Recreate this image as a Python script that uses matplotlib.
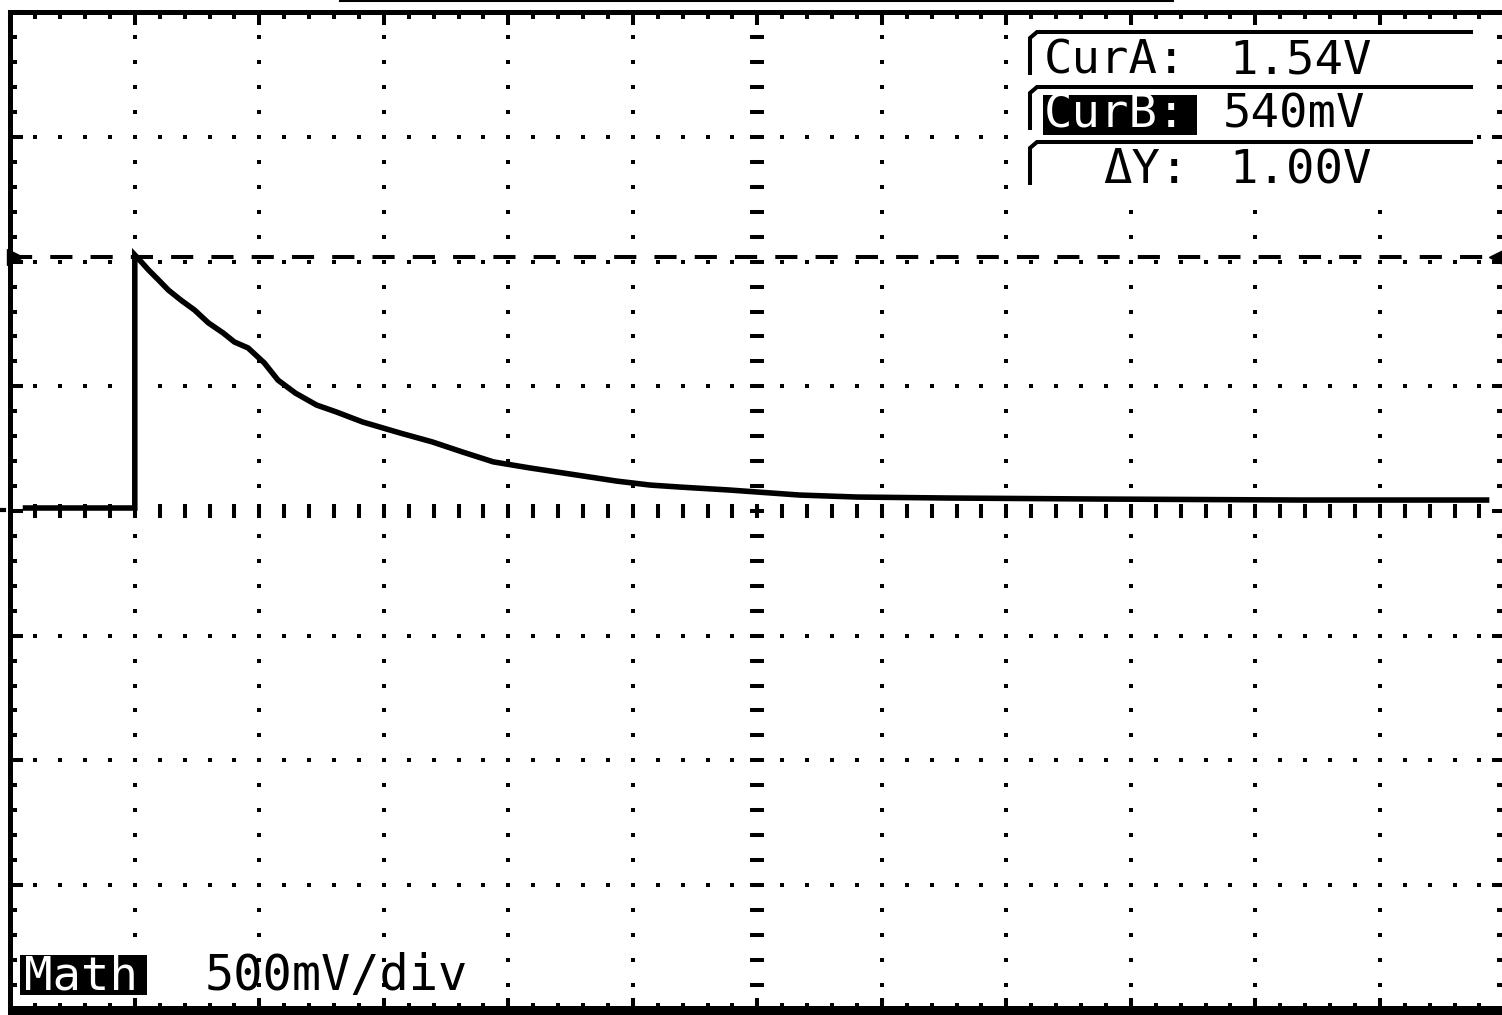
import numpy as np
import matplotlib
matplotlib.use("Agg")
import matplotlib.pyplot as plt
from matplotlib.patches import Rectangle
from matplotlib.lines import Line2D

# ---------------- data ----------------
volts_per_div = 0.5
screen_center_v = 0.52
n_xdiv = 12
n_ydiv = 8

# trace: time in divisions, voltage in volts
trace_t = [0.10, 1.00, 1.00, 1.06, 1.11, 1.19, 1.27, 1.37, 1.48, 1.59, 1.71,
           1.80, 1.91, 2.04, 2.15, 2.29, 2.46, 2.62, 2.83, 3.13, 3.39, 3.63,
           3.88, 4.17, 4.54, 4.87, 5.14, 5.38, 5.78, 6.34, 6.80, 7.55, 8.75,
           10.36, 11.88]
trace_v = [0.532, 0.532, 1.547, 1.515, 1.487, 1.447, 1.406, 1.366, 1.326,
           1.275, 1.234, 1.198, 1.174, 1.114, 1.045, 0.993, 0.945, 0.917,
           0.877, 0.833, 0.797, 0.757, 0.717, 0.693, 0.665, 0.640, 0.624,
           0.616, 0.604, 0.584, 0.576, 0.572, 0.568, 0.564, 0.564]

cursor_a_v = 1.54
cursor_b_v = 0.54
readout_labels = ["CurA:", "CurB:", "ΔY:"]
readout_values = ["1.54V", "540mV", "1.00V"]
channel_label = "Math"
scale_label = "500mV/div"

# ---------------- figure ----------------
W, H = 1502, 1015
fig = plt.figure(figsize=(W / 100, H / 100), dpi=100)
fig.patch.set_facecolor("white")


def fx(x):
    return x / W


def fy(y):
    return 1 - y / H


left_px, right_px, top_px, bot_px = 10.3, 1504.3, 12.4, 1009.6
ax = fig.add_axes([fx(left_px), fy(bot_px), (right_px - left_px) / W,
                   (bot_px - top_px) / H])
ax.set_facecolor("white")
v_lo = screen_center_v - n_ydiv / 2 * volts_per_div
v_hi = screen_center_v + n_ydiv / 2 * volts_per_div
ax.set_xlim(0, n_xdiv)
ax.set_ylim(v_lo, v_hi)

for s in ax.spines.values():
    s.set_linewidth(3.6)
    s.set_color("black")

ax.set_xticks(np.arange(0, n_xdiv + 1))
ax.set_xticks(np.arange(0, n_xdiv + 0.001, 0.2), minor=True)
ax.set_yticks(screen_center_v + volts_per_div * np.arange(-n_ydiv / 2, n_ydiv / 2 + 1))
ax.set_yticks(screen_center_v + volts_per_div * np.arange(-n_ydiv / 2, n_ydiv / 2 + 0.001, 0.2),
              minor=True)
ax.tick_params(which="both", direction="in", top=True, right=True,
               bottom=True, left=True, labelbottom=False, labelleft=False,
               width=2.9, color="black")
ax.tick_params(which="major", length=9)
ax.tick_params(which="minor", length=4.7)

# dotted graticule
xs_dot = np.arange(0, n_xdiv + 0.001, 0.2)
ys_dot = screen_center_v + volts_per_div * np.arange(-n_ydiv / 2, n_ydiv / 2 + 0.001, 0.2)
for k in range(-3, 4):
    if k == 0:
        continue
    ax.plot(xs_dot, np.full_like(xs_dot, screen_center_v + volts_per_div * k),
            "s", ms=2.9, mew=0, color="black")
for i in range(1, n_xdiv):
    if i == n_xdiv // 2:
        continue
    ax.plot(np.full_like(ys_dot, i), ys_dot, "s", ms=2.9, mew=0, color="black")

# center axes with small ticks
ax.plot(np.full_like(ys_dot, n_xdiv / 2), ys_dot, "_", ms=10, mew=2.9, color="black")
ax.plot(xs_dot, np.full_like(xs_dot, screen_center_v), "|", ms=9.5, mew=2.9, color="black")

# cursor A line and its end markers
ax.axhline(cursor_a_v, color="black", lw=2.9, dashes=(5.5, 4.5))
ax.plot([0.04], [cursor_a_v], ">", ms=12, color="black", clip_on=False)
ax.plot([n_xdiv - 0.06], [cursor_a_v], "<", ms=12, color="black", clip_on=False)

# trace
ax.plot(trace_t, trace_v, color="black", lw=4.0, solid_joinstyle="miter",
        solid_capstyle="butt", zorder=4)

# ---------------- overlays (figure pixel coordinates) ----------------
fig.add_artist(Rectangle((fx(8), fy(1015)), (W - 8) / W, 9 / H,
                         transform=fig.transFigure, facecolor="black",
                         edgecolor="none", zorder=3))
fig.add_artist(Line2D([fx(340), fx(1173)], [fy(1), fy(1)], transform=fig.transFigure,
                      color="black", lw=1.5))
fig.add_artist(Line2D([fx(0), fx(4)], [fy(509.5), fy(509.5)], transform=fig.transFigure,
                      color="black", lw=3))

# readout panel
fig.add_artist(Rectangle((fx(1020), fy(200)), (1475 - 1020) / W, (200 - 27) / H,
                         transform=fig.transFigure, facecolor="white",
                         edgecolor="none", zorder=5))
for ytop, ybot in [(32, 73), (87, 128), (142, 183)]:
    fig.add_artist(Line2D([fx(1030), fx(1030), fx(1037), fx(1471)],
                          [fy(ybot), fy(ytop + 6), fy(ytop), fy(ytop)],
                          transform=fig.transFigure, color="black", lw=2.9,
                          solid_joinstyle="miter", zorder=6))

mono = "DejaVu Sans Mono"
fs = 34
# row 1
fig.text(fx(1044), fy(73), readout_labels[0], fontsize=fs, family=mono,
         va="baseline", ha="left", color="black", zorder=7)
fig.text(fx(1229), fy(73), readout_values[0], fontsize=fs, family=mono,
         va="baseline", ha="left", color="black", zorder=7)
# row 2 (highlighted label)
fig.add_artist(Rectangle((fx(1043), fy(135)), (1197 - 1043) / W, 40 / H,
                         transform=fig.transFigure, facecolor="black",
                         edgecolor="none", zorder=6))
fig.text(fx(1044), fy(128), readout_labels[1], fontsize=fs, family=mono,
         va="baseline", ha="left", color="white", zorder=7)
fig.text(fx(1223), fy(128), readout_values[1], fontsize=fs, family=mono,
         va="baseline", ha="left", color="black", zorder=7)
# row 3
fig.text(fx(1103), fy(183), readout_labels[2], fontsize=fs, family=mono,
         va="baseline", ha="left", color="black", zorder=7)
fig.text(fx(1229), fy(183), readout_values[2], fontsize=fs, family=mono,
         va="baseline", ha="left", color="black", zorder=7)

# bottom channel label
fig.add_artist(Rectangle((fx(20), fy(995)), (147 - 20) / W, 40 / H,
                         transform=fig.transFigure, facecolor="black",
                         edgecolor="none", zorder=6))
fig.text(fx(24), fy(990), channel_label, fontsize=fs, family=mono,
         va="baseline", ha="left", color="white", zorder=7)
fig.text(fx(205), fy(990), scale_label, fontsize=35, family=mono,
         va="baseline", ha="left", color="black", zorder=7)

fig.savefig("out.png", dpi=100, facecolor="white")
